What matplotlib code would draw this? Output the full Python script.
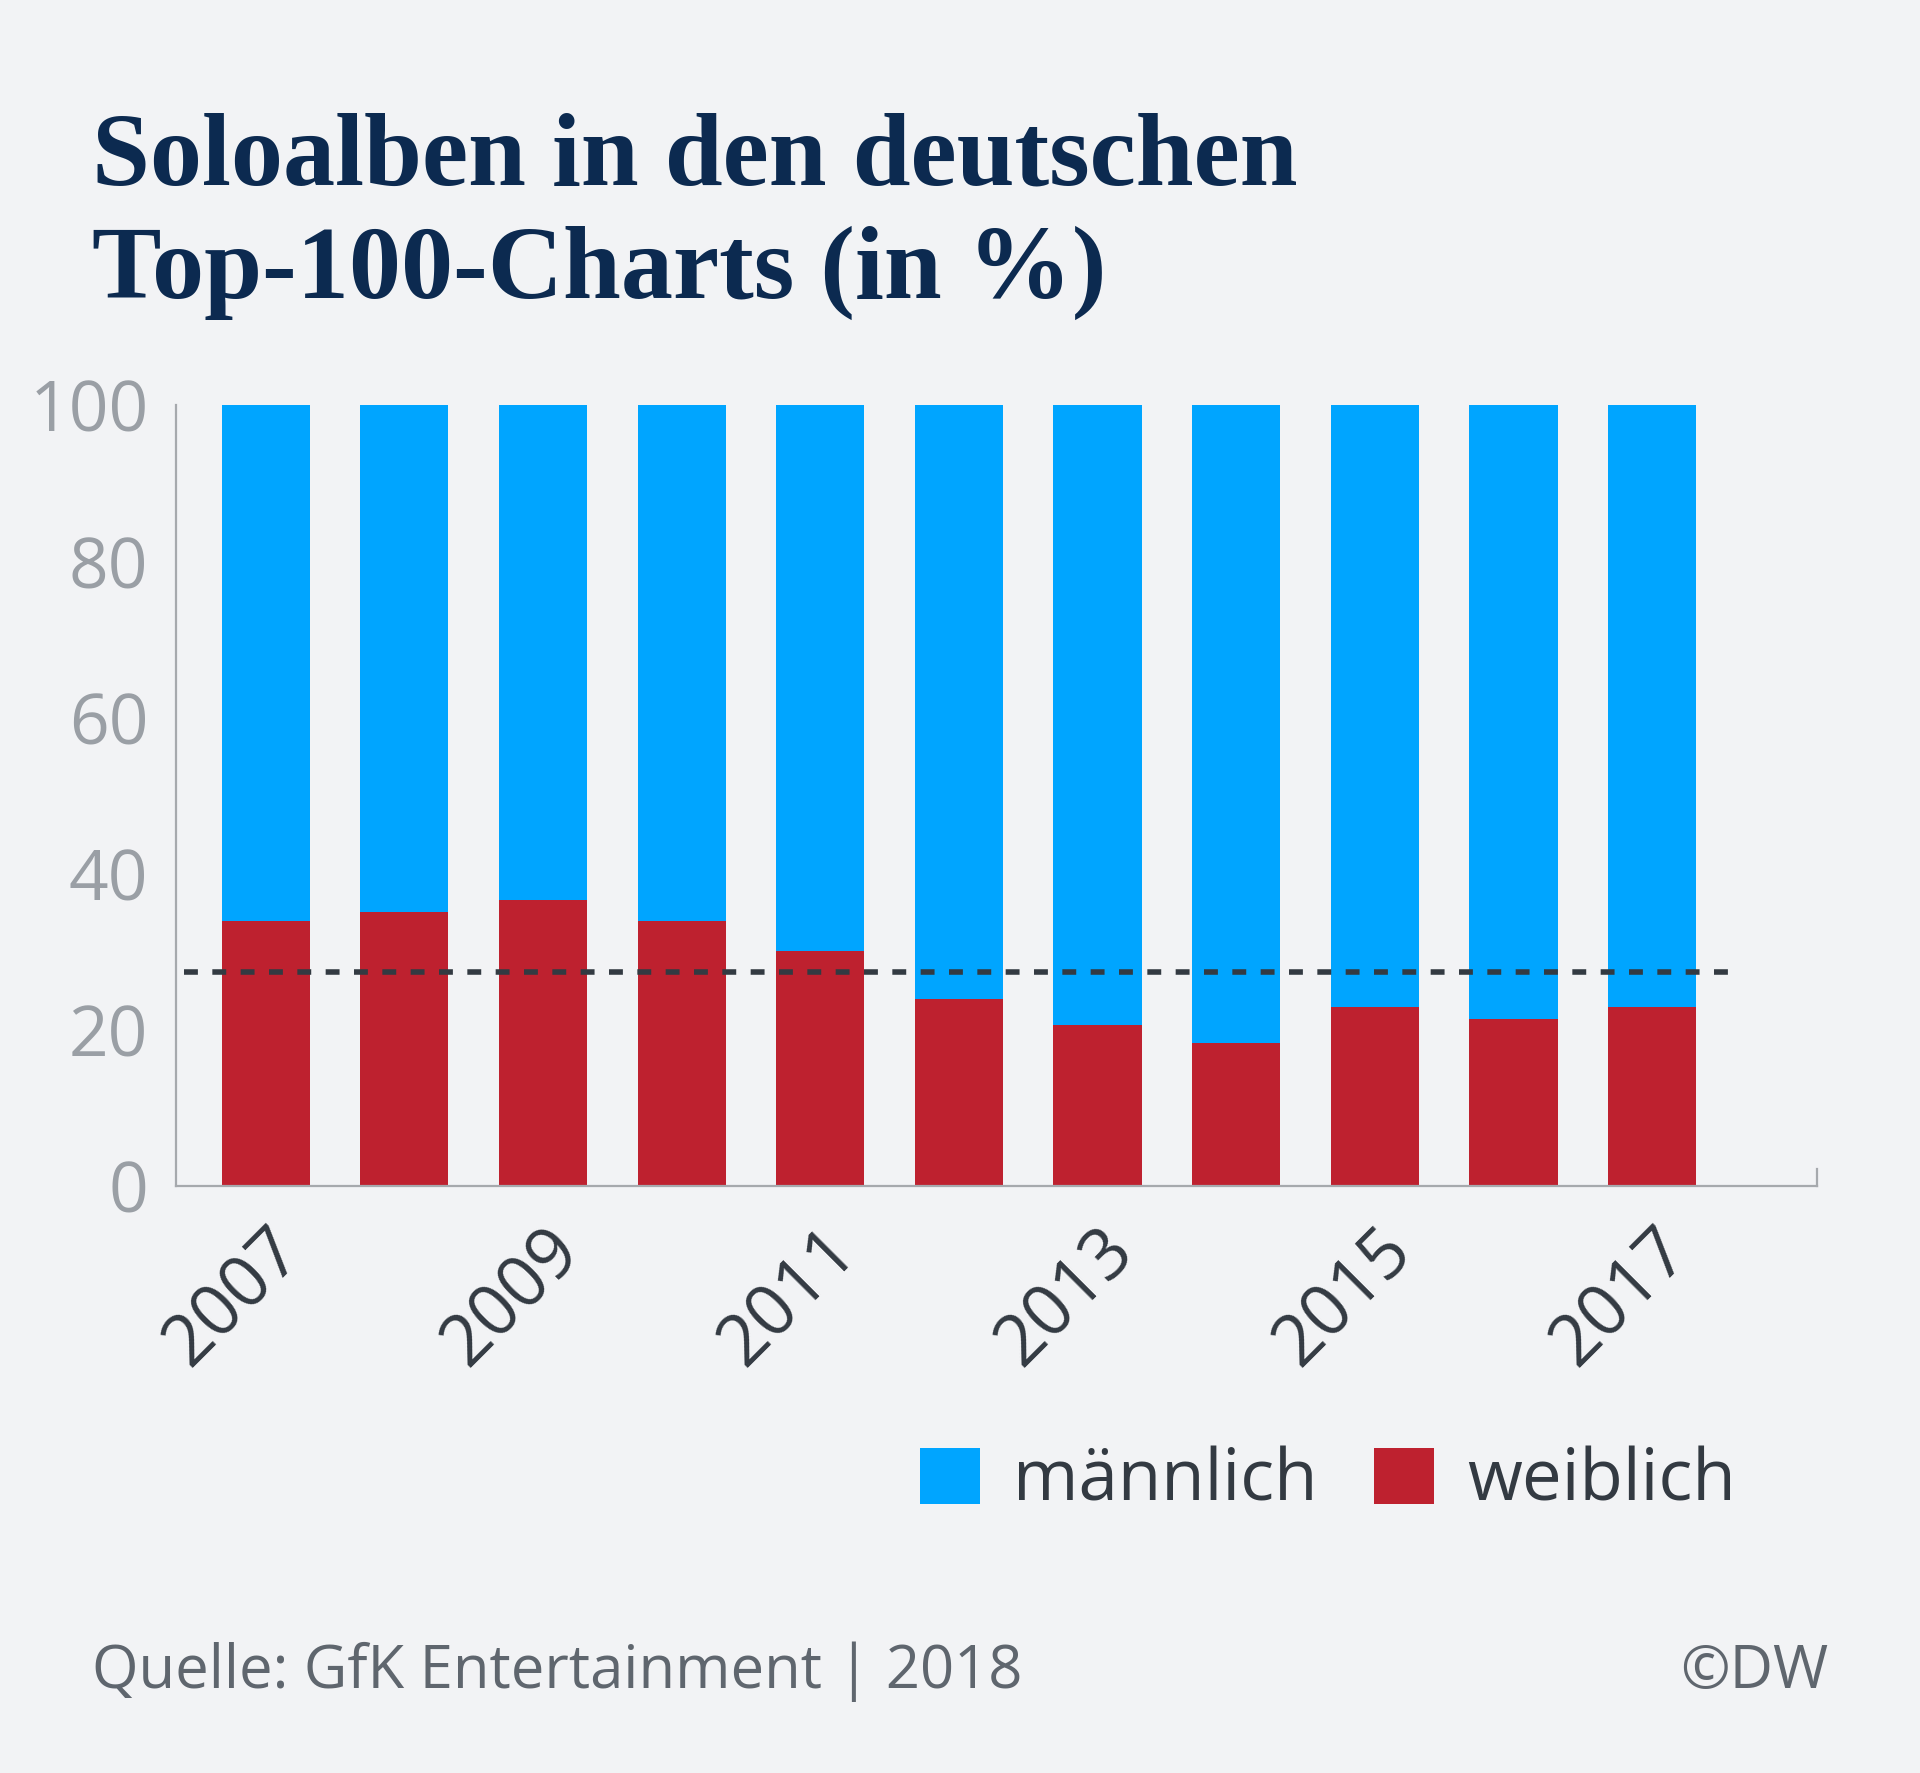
import numpy as np
import matplotlib.pyplot as plt

# data
years = [2007, 2008, 2009, 2010, 2011, 2012, 2013, 2014, 2015, 2016, 2017]
weiblich = [34.0, 35.2, 36.7, 34.0, 30.2, 24.0, 20.7, 18.4, 23.0, 21.5, 23.0]
maennlich = [100 - w for w in weiblich]
avg_weiblich = 27.4
tick_years = [2007, 2009, 2011, 2013, 2015, 2017]

BG = '#f2f3f5'
BLUE = '#00a5ff'
RED = '#be212f'
DARK = '#333a42'
GRAY = '#9a9fa5'
NAVY = '#0c2a50'

plt.rcParams['font.family'] = ['Open Sans', 'DejaVu Sans']

fig = plt.figure(figsize=(19.2, 17.73), dpi=100, facecolor=BG)
ax = fig.add_axes([0.0918, 0.3308, 0.9464 - 0.0918, 0.7714 - 0.3308])
ax.set_facecolor(BG)

x = np.arange(len(years))
ax.bar(x, weiblich, width=0.636, color=RED, label='weiblich', zorder=2)
ax.bar(x, maennlich, width=0.636, bottom=weiblich, color=BLUE, label='männlich', zorder=2)

ax.plot([-0.59, 10.63], [avg_weiblich, avg_weiblich], color=DARK, lw=4.0,
        dashes=(2.5, 2.6), zorder=3)

ax.set_xlim(-0.645, 11.19)
ax.set_ylim(0, 100)

ax.spines['top'].set_visible(False)
for s in ['left', 'bottom', 'right']:
    ax.spines[s].set_color('#a6a9ad')
    ax.spines[s].set_linewidth(1.6)
ax.spines['right'].set_bounds(0, 2.3)

ax.set_yticks([0, 20, 40, 60, 80, 100])
ax.tick_params(axis='y', length=0, pad=20, labelsize=50, labelcolor=GRAY)

ax.set_xticks([years.index(y) for y in tick_years])
ax.set_xticklabels([str(y) for y in tick_years], rotation=45, ha='right',
                   rotation_mode='anchor', fontsize=51, color=DARK)
ax.tick_params(axis='x', length=0, pad=20)

# title
fig.text(0.048, 0.896, 'Soloalben in den deutschen', family=['Liberation Serif', 'DejaVu Serif'],
         fontweight='bold', fontsize=75, color=NAVY, va='baseline')
fig.text(0.048, 0.832, 'Top-100-Charts (in %)', family=['Liberation Serif', 'DejaVu Serif'],
         fontweight='bold', fontsize=75, color=NAVY, va='baseline')

# legend
handles, labels = ax.get_legend_handles_labels()
fig.legend(handles[::-1], labels[::-1], loc='center right', bbox_to_anchor=(0.904, 0.164),
           ncol=2, frameon=False, fontsize=51, labelcolor=DARK, handlelength=0.84,
           handleheight=0.84, handletextpad=0.47, columnspacing=0.8,
           borderpad=0, borderaxespad=0)

# footer
fig.text(0.048, 0.048, 'Quelle: GfK Entertainment | 2018', fontsize=43, color='#5f666e',
         va='baseline')
fig.text(0.952, 0.048, '©DW', fontsize=43, color='#5f666e', va='baseline', ha='right')

fig.savefig('out.png', dpi=100, facecolor=BG)
